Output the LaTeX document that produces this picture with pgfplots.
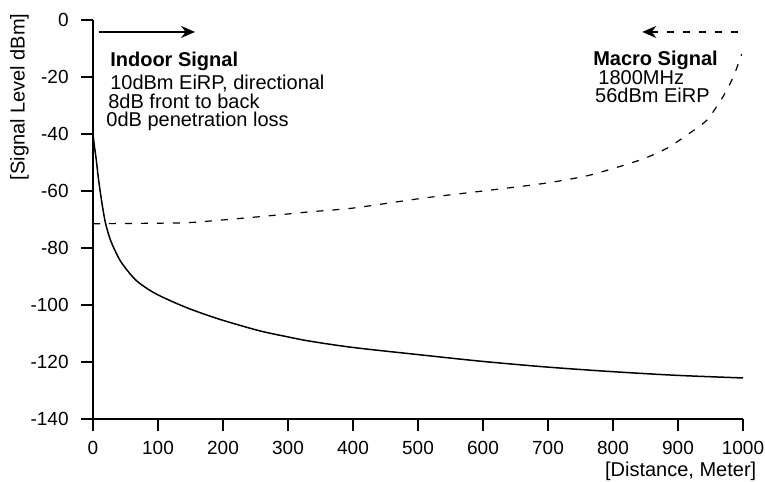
\documentclass[border=0pt]{standalone}
\usepackage{pgfplots}
\pgfplotsset{compat=1.18}
\usepackage{fontspec}
\setmainfont{Liberation Sans}
\usetikzlibrary{arrows.meta}
\begin{document}
\begin{tikzpicture}
\begin{axis}[
  at={(0,0)}, anchor=south west,
  scale only axis, width=325bp, height=199.5bp,
  xmin=0, xmax=1000, ymin=-140, ymax=0,
  axis lines*=left,
  clip=false,
  xtick={0,100,...,1000}, ytick={-140,-120,...,0},
  tick align=outside,
  major tick length=6bp,
  every tick/.style={black, line width=1bp},
  x axis line style={line width=0.7bp},
  y axis line style={line width=1.2bp},
  /pgf/number format/assume math mode=true,
  /pgf/number format/1000 sep={},
  ticklabel style={font=\fontsize{9.5bp}{11bp}\selectfont, inner sep=0pt},
  yticklabel style={anchor=east, xshift=-6bp},
  xticklabel style={anchor=north, yshift=-5bp},
  scaled ticks=false,
]
\addplot[black, line width=0.75bp, smooth, tension=0.5] coordinates {
(0,-40) (2,-44) (5,-49) (8,-55) (11,-60) (15,-66) (19,-71) (25,-76) (31,-79.5)
(42,-84.5) (55,-88.5) (67,-91.5) (85,-94.5) (103,-96.8) (130,-99.6) (154,-101.8)
(180,-103.9) (206,-105.8) (257,-109.1) (300,-111.2) (334,-112.7) (400,-114.9)
(500,-117.4) (600,-119.8) (700,-121.8) (800,-123.4) (900,-124.7) (1000,-125.6)
};
\addplot[black, line width=0.6bp, dash pattern=on 3.5bp off 4.5bp, smooth, tension=0.4] coordinates {
(0,-71.5) (100,-71.3) (154,-71) (257,-69) (334,-67.3) (400,-66) (508,-62.5)
(600,-60) (695,-57.3) (765,-54.4) (842,-49.1) (883,-45) (918,-39.7) (945,-35)
(969,-27) (985,-20) (998,-12)
};
\draw[black, line width=0.7bp, -{Stealth[length=7bp, width=6bp]}] (axis cs:9,-4.2) -- (axis cs:157,-4.2);
\draw[black, line width=0.6bp, dash pattern=on 3.5bp off 4.5bp, -{Stealth[length=7bp, width=6bp, sep=0pt]}] (axis cs:992,-4.2) -- (axis cs:845,-4.2);
\begin{scope}[every node/.style={inner sep=0pt, anchor=base west, font=\fontsize{10bp}{12bp}\selectfont}]
\node[font=\fontsize{10bp}{12bp}\selectfont\bfseries] at (axis cs:26,-16.3) {Indoor Signal};
\node at (axis cs:26,-24.4) {10dBm EiRP, directional};
\node at (axis cs:23,-30.9) {8dB front to back};
\node at (axis cs:20,-37.4) {0dB penetration loss};
\node[font=\fontsize{10bp}{12bp}\selectfont\bfseries] at (axis cs:769,-15.8) {Macro Signal};
\node at (axis cs:777,-22.5) {1800MHz};
\node at (axis cs:772,-29.1) {56dBm EiRP};
\end{scope}
\node[rotate=90, inner sep=0pt, font=\fontsize{10bp}{12bp}\selectfont] at (axis cs:-113,-27) {[Signal Level dBm]};
\node[anchor=east, inner sep=0pt, font=\fontsize{10bp}{12bp}\selectfont] at (axis cs:1021,-158.3) {[Distance, Meter]};
\end{axis}
\pgfresetboundingbox
\path (-46.5bp,-31.5bp) rectangle (336bp,209.5bp);
\end{tikzpicture}
\end{document}
